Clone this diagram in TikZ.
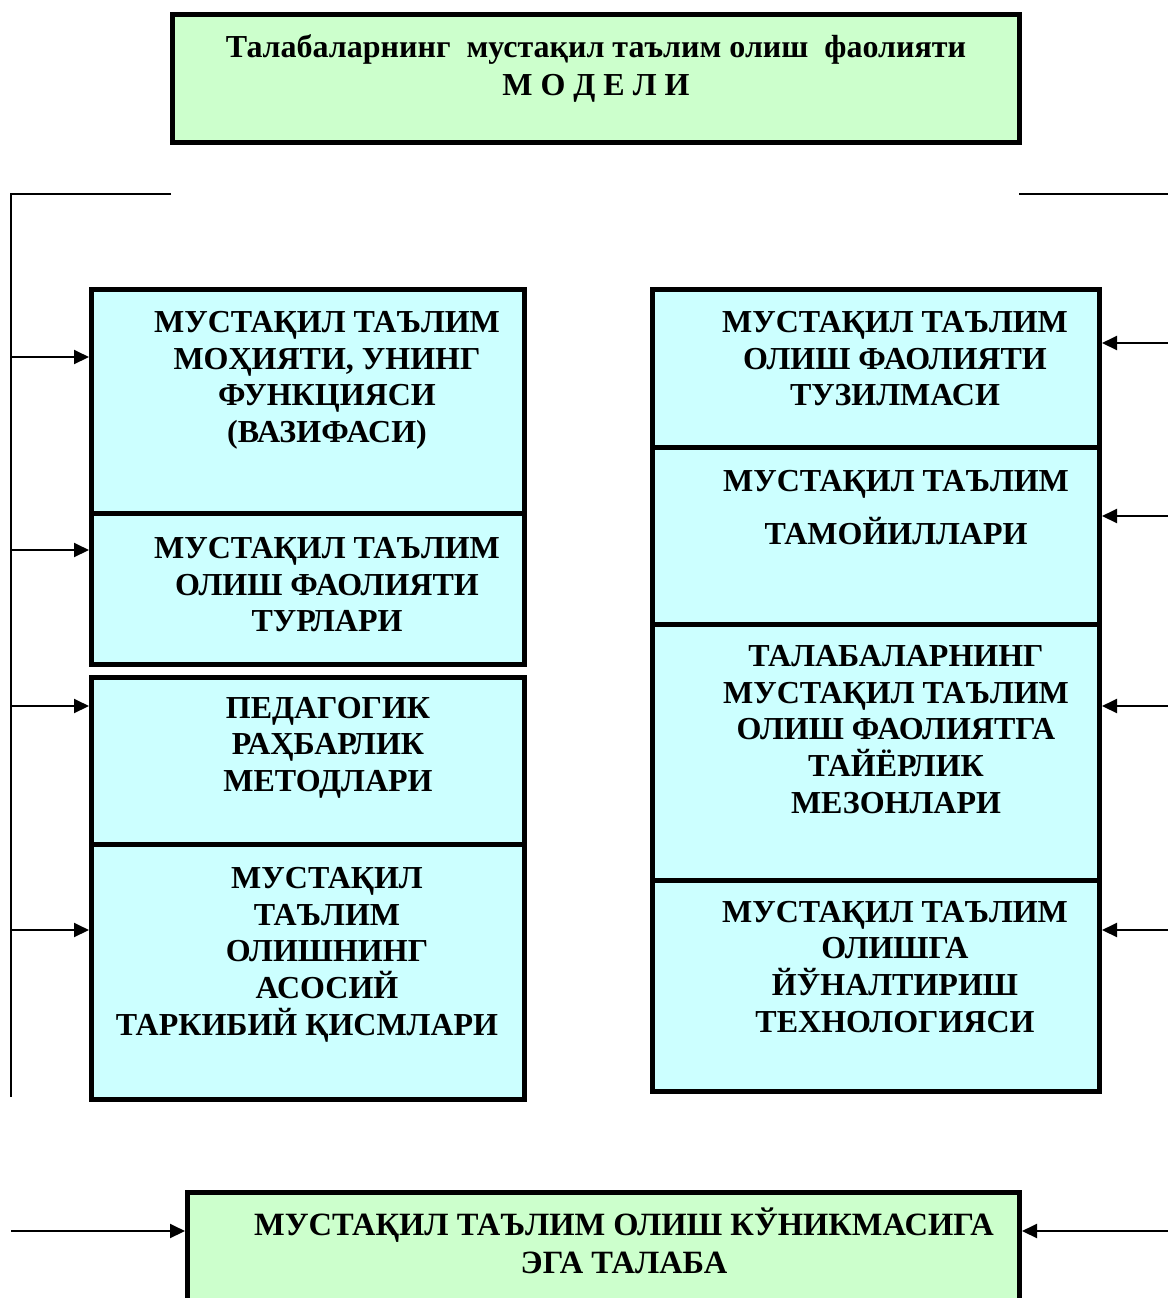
\documentclass[tikz,border=0pt]{standalone}
\usepackage{fontspec}
\setmainfont{Liberation Serif}
\usetikzlibrary{arrows.meta}
\definecolor{boxgreen}{RGB}{204,255,204}
\definecolor{boxcyan}{RGB}{204,255,255}
\newcommand\topstrut{\rule{0pt}{17pt}}
\begin{document}
\begin{tikzpicture}[x=0.5pt,y=-0.5pt,
  box/.style={draw=black, line width=2.5pt, inner sep=0pt, outer sep=0pt},
  gbox/.style={box, fill=boxgreen},
  cbox/.style={box, fill=boxcyan},
  txt/.style={font=\bfseries\fontsize{16pt}{18.35pt}\selectfont, align=center, inner sep=0pt, anchor=north},
  ttl/.style={font=\bfseries\fontsize{16pt}{19pt}\selectfont, align=center, inner sep=0pt, anchor=north},
  thinline/.style={line width=1pt},
  arr/.style={line width=1pt, -{Triangle[length=7.5pt,width=7pt]}, shorten >=1.25pt}]
\clip (0,0) rectangle (1168,1298);
\fill[white] (0,0) rectangle (1168,1298);

% boxes
\node[gbox, minimum width=423.5pt, minimum height=63.75pt] (top) at (596,78.25) {};
\node[cbox, minimum width=216.25pt, minimum height=112pt] (l1) at (307.75,401) {};
\node[cbox, minimum width=216.25pt, minimum height=75.5pt] (l2) at (307.75,588.5) {};
\node[cbox, minimum width=216.25pt, minimum height=83.75pt] (l3) at (307.75,760.75) {};
\node[cbox, minimum width=216.25pt, minimum height=127.5pt] (l4) at (307.75,972) {};
\node[cbox, minimum width=223.5pt, minimum height=79pt] (r1) at (876,368) {};
\node[cbox, minimum width=223.5pt, minimum height=88.5pt] (r2) at (876,535.5) {};
\node[cbox, minimum width=223.5pt, minimum height=128pt] (r3) at (876,752) {};
\node[cbox, minimum width=223.5pt, minimum height=105.5pt] (r4) at (876,985.5) {};
\node[gbox, minimum width=416pt, minimum height=63.75pt] (bot) at (603.5,1256.25) {};

% texts
\node[ttl] (ttop) at (596,23) {\topstrut Талабаларнинг\ \ мустақил таълим олиш\ \ фаолияти\\ М О Д Е Л И};
\node[txt] (tl1) at (327,298) {\topstrut МУСТАҚИЛ ТАЪЛИМ\\ МОҲИЯТИ, УНИНГ\\ ФУНКЦИЯСИ\\ (ВАЗИФАСИ)};
\node[txt] (tl2) at (327,524) {\topstrut МУСТАҚИЛ ТАЪЛИМ\\ ОЛИШ ФАОЛИЯТИ\\ ТУРЛАРИ};
\node[txt] (tl3) at (328,683.7) {\topstrut ПЕДАГОГИК\\ РАҲБАРЛИК\\ МЕТОДЛАРИ};
\node[txt] (tl4) at (327,854) {\topstrut МУСТАҚИЛ\\ ТАЪЛИМ\\ ОЛИШНИНГ\\ АСОСИЙ\\ \kern-20pt ТАРКИБИЙ ҚИСМЛАРИ};
\node[txt] (tr1) at (895,298) {\topstrut МУСТАҚИЛ ТАЪЛИМ\\ ОЛИШ ФАОЛИЯТИ\\ ТУЗИЛМАСИ};
\node[txt] (tr2) at (896,457) {\topstrut МУСТАҚИЛ ТАЪЛИМ\\[8.15pt] ТАМОЙИЛЛАРИ};
\node[txt] (tr3) at (896,632) {\topstrut ТАЛАБАЛАРНИНГ\\ МУСТАҚИЛ ТАЪЛИМ\\ ОЛИШ ФАОЛИЯТГА\\ ТАЙЁРЛИК\\ МЕЗОНЛАРИ};
\node[txt] (tr4) at (895,887.7) {\topstrut МУСТАҚИЛ ТАЪЛИМ\\ ОЛИШГА\\ ЙЎНАЛТИРИШ\\ ТЕХНОЛОГИЯСИ};
\node[ttl, font=\bfseries\fontsize{16.25pt}{19pt}\selectfont] (tbot) at (624,1201) {\topstrut МУСТАҚИЛ ТАЪЛИМ ОЛИШ КЎНИКМАСИГА\\ ЭГА ТАЛАБА};

% frame lines
\coordinate (ht) at (171,194);
\coordinate (vt) at (11,194);
\coordinate (vb) at (11,1097);
\draw[thinline] (ht) -- (vt) -- (vb);
\coordinate (rt1) at (1019,194);
\coordinate (rt2) at (1170,194);
\draw[thinline] (rt1) -- (rt2);

% left arrows
\coordinate (la1) at (11,357);
\coordinate (la2) at (11,550);
\coordinate (la3) at (11,706);
\coordinate (la4) at (11,930);
\draw[arr] (la1) -- (la1 -| l1.west);
\draw[arr] (la2) -- (la2 -| l2.west);
\draw[arr] (la3) -- (la3 -| l3.west);
\draw[arr] (la4) -- (la4 -| l4.west);

% right arrows
\coordinate (ra1) at (1170,343);
\coordinate (ra2) at (1170,516);
\coordinate (ra3) at (1170,706);
\coordinate (ra4) at (1170,930);
\draw[arr] (ra1) -- (ra1 -| r1.east);
\draw[arr] (ra2) -- (ra2 -| r2.east);
\draw[arr] (ra3) -- (ra3 -| r3.east);
\draw[arr] (ra4) -- (ra4 -| r4.east);

% bottom arrows
\coordinate (lb) at (11,1231);
\coordinate (rb) at (1170,1231);
\draw[arr] (lb) -- (lb -| bot.west);
\draw[arr] (rb) -- (rb -| bot.east);
\end{tikzpicture}
\end{document}
